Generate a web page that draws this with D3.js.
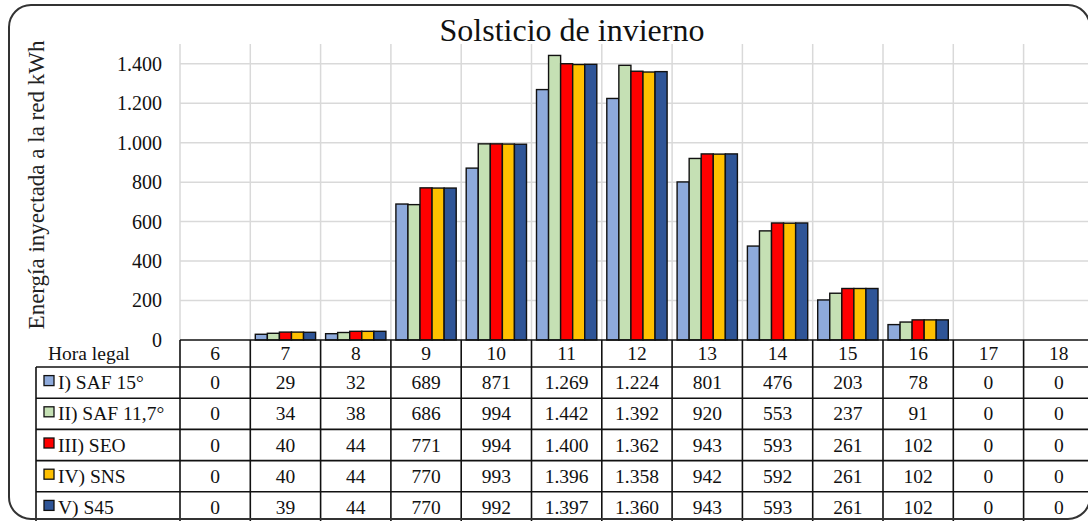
<!DOCTYPE html>
<html>
<head>
<meta charset="utf-8">
<script src="https://cdn.jsdelivr.net/npm/d3@7"></script>
<style>
  body { margin: 0; background: #fff; }
  svg { display: block; }
  svg text { font-family: "Liberation Serif", "DejaVu Serif", serif; }
</style>
</head>
<body>
<div class="canva"></div>
<script>
// categories (hora legal)
const hours = [6, 7, 8, 9, 10, 11, 12, 13, 14, 15, 16, 17, 18]

// series
const seriesNames = ["I) SAF 15°", "II) SAF 11,7°", "III) SEO", "IV) SNS", "V) S45"]
const seriesColors = ["#8eaadb", "#c5e0b4", "#ff0000", "#ffc000", "#2f5597"]

const saf15   = [0, 29, 32, 689, 871, 1269, 1224, 801, 476, 203, 78, 0, 0]
const saf117  = [0, 34, 38, 686, 994, 1442, 1392, 920, 553, 237, 91, 0, 0]
const seo     = [0, 40, 44, 771, 994, 1400, 1362, 943, 593, 261, 102, 0, 0]
const sns     = [0, 40, 44, 770, 993, 1396, 1358, 942, 592, 261, 102, 0, 0]
const s45     = [0, 39, 44, 770, 992, 1397, 1360, 943, 593, 261, 102, 0, 0]

const yTicks = [0, 200, 400, 600, 800, 1000, 1200, 1400]

const allValues = [saf15, saf117, seo, sns, s45]

const W = 1088, H = 521
const plotLeft = 180, plotTop = 44, plotBottom = 340
const colW = 70.3
const headerH = 27, rowH = 31.2
const legendLeft = 36
const serif = '"Liberation Serif", "DejaVu Serif", serif'
const fs = 19.5

const es = d3.formatLocale({decimal: ",", thousands: ".", grouping: [3], currency: ["", " €"]})
const fmt = es.format(",d")

function render() {
    const svg = d3.select('.canva').append('svg')
        .attr('width', W)
        .attr('height', H)
        .attr('font-family', serif)

    const x = d3.scaleBand()
        .domain(hours)
        .range([plotLeft, plotLeft + colW * hours.length])
        .padding(0)

    const x1 = d3.scaleBand()
        .domain(seriesNames)
        .range([5, colW - 5])
        .padding(0)

    const y = d3.scaleLinear()
        .domain([0, 1500])
        .range([plotBottom, plotTop])

    // gridlines
    const grid = svg.append('g').attr('stroke', '#d9d9d9').attr('stroke-width', 1.5)
    grid.selectAll('line.h')
        .data(yTicks.filter(d => d > 0))
        .enter().append('line')
        .attr('x1', plotLeft).attr('x2', W)
        .attr('y1', d => y(d)).attr('y2', d => y(d))
    grid.selectAll('line.v')
        .data(hours)
        .enter().append('line')
        .attr('x1', d => x(d)).attr('x2', d => x(d))
        .attr('y1', plotTop).attr('y2', plotBottom)

    // y axis labels
    const yAxis = d3.axisLeft(y).tickValues(yTicks).tickFormat(fmt).tickSize(0).tickPadding(18)
    svg.append('g')
        .attr('transform', `translate(${plotLeft},0)`)
        .call(yAxis)
        .attr('font-family', serif)
        .attr('font-size', 20)
        .call(g => g.select('.domain').remove())
        .call(g => g.selectAll('text').attr('fill', '#111'))

    // bars
    const groups = svg.selectAll('g.hour')
        .data(hours)
        .enter().append('g')
        .attr('transform', d => `translate(${x(d)},0)`)

    groups.selectAll('rect')
        .data((h, i) => seriesNames.map((s, k) => ({s: s, k: k, v: allValues[k][i]})))
        .enter().filter(d => d.v > 0).append('rect')
        .attr('x', d => x1(d.s))
        .attr('y', d => y(d.v))
        .attr('width', x1.bandwidth())
        .attr('height', d => plotBottom - y(d.v))
        .attr('fill', d => seriesColors[d.k])
        .attr('stroke', '#111')
        .attr('stroke-width', 1.4)

    // data table
    const table = svg.append('g').attr('font-family', serif).attr('font-size', fs).attr('fill', '#111')
    const tableRight = plotLeft + colW * hours.length
    const rowsTop = plotBottom + headerH

    // header row
    table.append('text')
        .attr('x', 48).attr('y', plotBottom + headerH / 2 + 6)
        .text('Hora legal')
    table.selectAll('text.hr')
        .data(hours)
        .enter().append('text')
        .attr('x', d => x(d) + colW / 2)
        .attr('y', plotBottom + headerH / 2 + 6)
        .attr('text-anchor', 'middle')
        .text(d => d)

    // values
    seriesNames.forEach((s, k) => {
        const cy = rowsTop + rowH * k + rowH / 2 + 6.5
        table.append('rect')
            .attr('x', 44).attr('y', cy - 13.5)
            .attr('width', 10).attr('height', 10)
            .attr('fill', seriesColors[k])
            .attr('stroke', '#111').attr('stroke-width', 1.3)
        table.append('text')
            .attr('x', 58).attr('y', cy)
            .text(s)
        table.selectAll('text.v' + k)
            .data(allValues[k])
            .enter().append('text')
            .attr('x', (d, i) => x(hours[i]) + colW / 2)
            .attr('y', cy)
            .attr('text-anchor', 'middle')
            .text(d => fmt(d))
    })

    // table lines
    const tl = table.append('g').attr('stroke', '#111').attr('stroke-width', 1.6)
    tl.append('line').attr('x1', plotLeft).attr('x2', tableRight).attr('y1', plotBottom).attr('y2', plotBottom)
    d3.range(seriesNames.length + 1).forEach(r => {
        const yy = rowsTop + rowH * r
        tl.append('line').attr('x1', legendLeft).attr('x2', tableRight).attr('y1', yy).attr('y2', yy)
    })
    tl.selectAll('line.cv')
        .data(hours.concat(['end']))
        .enter().append('line')
        .attr('x1', d => d === 'end' ? tableRight : x(d))
        .attr('x2', d => d === 'end' ? tableRight : x(d))
        .attr('y1', plotBottom).attr('y2', H)
    tl.append('line').attr('x1', legendLeft).attr('x2', legendLeft).attr('y1', rowsTop).attr('y2', H)

    // title
    svg.append('text')
        .attr('x', 572).attr('y', 41)
        .attr('text-anchor', 'middle')
        .attr('font-family', serif)
        .attr('font-size', 32).attr('fill', '#111')
        .text('Solsticio de invierno')

    // y axis title
    svg.append('text')
        .attr('transform', 'translate(44,185) rotate(-90)')
        .attr('text-anchor', 'middle')
        .attr('font-family', serif)
        .attr('font-size', 23).attr('fill', '#222')
        .text('Energía inyectada a la red kWh')

    // frame
    svg.append('rect')
        .attr('x', 9).attr('y', 5)
        .attr('width', 1081).attr('height', 514)
        .attr('rx', 22).attr('ry', 22)
        .attr('fill', 'none')
        .attr('stroke', '#333').attr('stroke-width', 2)
}
render()
</script>
</body>
</html>
